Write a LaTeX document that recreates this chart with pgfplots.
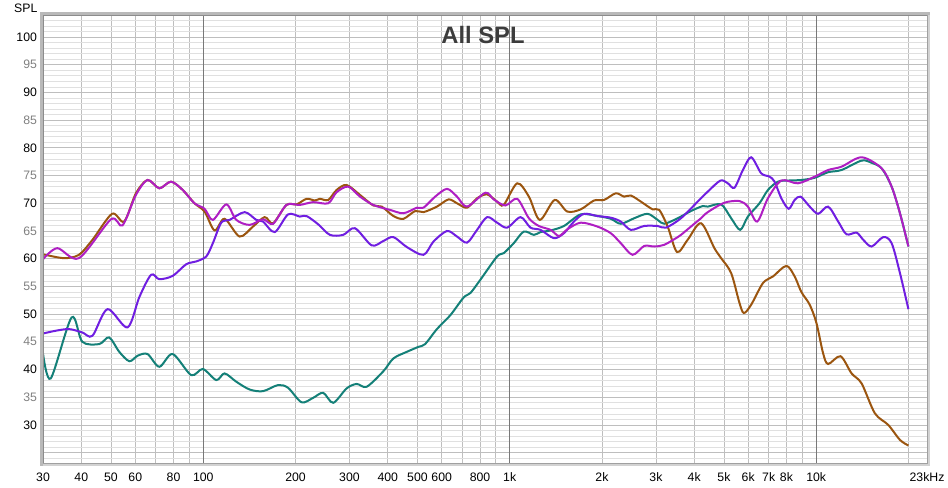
\documentclass[border=0pt]{standalone}
\usepackage{fontspec}
\setmainfont{Liberation Sans}
\usepackage{pgfplots}
\pgfplotsset{compat=1.18}
\definecolor{cbrown}{RGB}{155,85,15}
\definecolor{cteal}{RGB}{20,128,120}
\definecolor{cviolet}{RGB}{112,30,225}
\definecolor{cmag}{RGB}{175,30,195}
\definecolor{tgray}{RGB}{128,128,128}
\definecolor{gmaj}{RGB}{190,190,190}
\definecolor{gmin}{RGB}{224,224,224}
\definecolor{gdec}{RGB}{120,120,120}
\definecolor{ttl}{RGB}{60,60,60}
\begin{document}
\begin{tikzpicture}
\path[use as bounding box] (-32.25pt,-18.75pt) rectangle (678.75pt,347.25pt);
\begin{axis}[
  at={(0pt,0pt)}, anchor=south west,
  scale only axis, width=663pt, height=336pt,
  xmode=log, xmin=30, xmax=23000, ymin=23.14, ymax=103.97,
  axis line style={draw=none},
  xtick={30,40,50,60,80,200,300,400,500,600,800,2000,3000,4000,5000,6000,7000,8000,23000},
  xticklabels={30,40,50,60,80,200,300,400,500,600,800,2k,3k,4k,5k,6k,7k,8k,23kHz},
  minor xtick={70,90,700,900,9000,20000},
  extra x ticks={100,1000,10000},
  extra x tick labels={100,1k,10k},
  extra x tick style={grid=major, major x grid style={gdec, line width=0.6pt}},
  ytick={25,30,...,100},
  yticklabels={,30,\textcolor{tgray}{35},40,\textcolor{tgray}{45},50,\textcolor{tgray}{55},60,\textcolor{tgray}{65},70,\textcolor{tgray}{75},80,\textcolor{tgray}{85},90,\textcolor{tgray}{95},100},
  minor ytick={24,26,27,28,29,31,32,33,34,36,37,38,39,41,42,43,44,46,47,48,49,51,52,53,54,56,57,58,59,61,62,63,64,66,67,68,69,71,72,73,74,76,77,78,79,81,82,83,84,86,87,88,89,91,92,93,94,96,97,98,99,101,102,103},
  grid=both,
  major grid style={gmaj, line width=0.6pt},
  minor y grid style={gmin, line width=0.5pt},
  minor x grid style={gmaj, line width=0.6pt},
  major tick length=0pt, minor tick length=0pt,
  tick label style={font=\fontsize{9.2}{10}\selectfont},
  xticklabel style={yshift=-4pt},
  yticklabel style={xshift=-1pt},
]
\addplot[cteal, line width=1.5pt, smooth] coordinates {
(30,42.9) (31.8,38.4) (37.2,49.4) (40.3,45.0) (45.8,44.6) (49.3,45.8) (53.2,43.2) (57.4,41.5) (61.1,42.5) (65.8,42.8) (71.9,40.5) (79.5,42.8) (91.3,39.0) (99.7,40.1) (110.3,38.1) (117.4,39.3) (128.2,37.8) (141.7,36.4) (156.7,36.1) (175.4,37.2) (189.2,36.7) (209.3,34.1) (228.4,34.9) (246.3,35.8) (265.5,34.0) (293.7,36.6) (316.7,37.4) (341.6,36.9) (387.1,39.7) (417.3,42.0) (461.7,43.2) (504,44.1) (529.9,44.6) (578.8,47.3) (640,49.8) (707.4,53.0) (744.1,53.8) (802.2,56.2) (909.7,60.4) (956,61.0) (1031,62.8) (1112,64.9) (1199,64.3) (1261,64.8) (1360,65.1) (1503,65.9) (1705,68.0) (1933,67.7) (2137,67.2) (2304,66.3) (2548,67.3) (2818,68.1) (3039,67.0) (3194,66.3) (3535,67.3) (3903,68.6) (4266,69.5) (4429,69.4) (4897,69.8) (5281,67.3) (5651,65.2) (5987,67.6) (6534,70.0) (6962,72.4) (7506,73.9) (8097,74.1) (8947,74.2) (9892,74.6) (10940,75.6) (12100,76.0) (14070,77.7) (15170,77.3) (16360,76.3) (17630,73.0) (18770,68.2) (20000,62.2)
};
\addplot[cbrown, line width=1.5pt, smooth] coordinates {
(30,60.8) (35.1,60.1) (39.3,60.7) (43.5,63.4) (50.4,68.1) (55.2,66.7) (60.3,71.8) (65.8,74.2) (71.9,72.7) (78.5,73.9) (85.7,72.4) (93.6,70.0) (101,68.5) (108.9,65.1) (117.4,67.2) (131.4,64.0) (145.3,65.8) (158.7,67.5) (169,66.4) (186.9,69.7) (201.6,69.8) (217.3,70.8) (231.3,70.5) (240.2,70.8) (255.7,70.6) (272.4,72.4) (293.7,73.3) (324.7,71.5) (358.9,69.6) (382.4,69.4) (417.3,67.7) (450.1,67.2) (491.5,68.6) (523.2,68.4) (578.8,69.4) (631.9,70.7) (673.1,70.0) (725.8,69.2) (782.6,70.9) (843.7,71.6) (909.7,70.3) (956,69.7) (1058,73.6) (1155,71.2) (1254,67.0) (1402,70.6) (1542,68.5) (1705,68.9) (1884,70.5) (2032,70.6) (2219,71.8) (2362,71.2) (2485,71.4) (2679,70.3) (2926,68.9) (3076,68.8) (3277,65.8) (3516,61.2) (3807,63.4) (4210,66.4) (4655,61.9) (4897,60.1) (5281,57.4) (5622,52.0) (5811,50.2) (6138,51.7) (6705,55.6) (7230,56.8) (7993,58.7) (8507,56.8) (8947,54.0) (9527,51.7) (10020,48.4) (10540,42.9) (10940,41.0) (12010,42.4) (13050,39.3) (14070,37.5) (15550,32.1) (17200,30.0) (18770,27.3) (20000,26.3)
};
\addplot[cviolet, line width=1.5pt, smooth] coordinates {
(30,46.5) (33,47.0) (36.5,47.3) (40.3,46.7) (43.5,46.1) (48.7,50.9) (56.6,47.6) (61.9,53.1) (67.6,57.1) (71.9,56.3) (79.5,56.9) (88,59.0) (94.8,59.5) (102.3,60.4) (107.5,62.8) (114.5,66.5) (121.9,67.0) (136.5,68.4) (149,67.0) (156.7,66.7) (171.1,64.8) (189.2,68.0) (206.6,67.6) (217.3,67.7) (237.2,66.2) (259,64.3) (286.3,64.3) (312.6,65.5) (354.6,62.4) (387.1,63.2) (417.3,63.9) (461.7,62.1) (523.2,60.7) (564.1,63.1) (624.4,65.0) (673.1,64.0) (725.8,62.9) (782.6,65.2) (843.7,67.5) (909.7,66.5) (980.9,65.6) (1085,67.5) (1169,65.6) (1261,65.2) (1394,63.7) (1503,64.6) (1621,66.7) (1748,68.1) (1933,67.7) (2137,67.4) (2304,66.7) (2485,65.2) (2747,65.9) (3039,65.9) (3235,65.6) (3622,67.3) (4106,70.3) (4429,72.1) (4871,74.1) (5150,73.6) (5413,72.8) (5767,76.0) (6138,78.3) (6619,75.4) (7046,74.8) (7317,73.9) (7698,70.9) (8134,69.0) (8507,70.6) (8900,71.2) (9527,69.4) (10150,68.1) (10940,69.4) (11800,66.7) (12560,64.4) (13550,64.7) (14250,63.4) (15170,62.2) (16560,63.9) (17630,62.8) (18770,57.4) (20000,50.9)
};
\addplot[cmag, line width=1.5pt, smooth] coordinates {
(30,59.9) (33.4,61.9) (39.3,60.1) (50.0,67.1) (54.5,66.0) (60.3,71.5) (65.8,74.2) (71.9,72.7) (78.5,73.9) (85.7,72.4) (93.6,70.0) (101,69.0) (107.5,67.0) (118.9,69.8) (128.2,67.0) (141.7,66.1) (156.7,67.1) (169,66.3) (186.9,69.7) (206.6,69.7) (228.4,70.2) (255.7,70.0) (272.4,72.0) (297.3,73.0) (324.7,71.2) (358.9,69.7) (407.1,68.8) (450.1,68.2) (498,69.2) (523.2,69.2) (571.4,71.2) (624.4,72.6) (673.1,71.2) (725.8,69.4) (833,71.9) (886.7,70.7) (968.4,69.6) (1058,70.8) (1155,67.3) (1245,65.9) (1360,65.2) (1448,64.1) (1542,65.3) (1705,66.5) (1933,65.8) (2137,64.6) (2304,62.8) (2517,60.7) (2747,62.3) (2962,62.2) (3194,62.5) (3535,63.9) (3622,64.3) (4002,66.3) (4210,67.3) (4429,68.4) (5020,70.1) (5622,70.4) (5987,69.4) (6422,66.7) (6962,70.9) (7698,74.1) (8727,73.6) (9892,74.8) (10940,76.0) (12100,76.6) (14070,78.3) (16360,76.3) (17630,73.0) (18770,68.2) (20000,62.2)
};
\end{axis}
\draw[color={rgb,255:red,210;green,210;blue,210}, line width=2pt] (664pt,337pt) -- (664pt,-1pt) -- (-2pt,-1pt);
\draw[color={rgb,255:red,160;green,160;blue,160}, line width=0.5pt] (663pt,336pt) -- (663pt,0pt) -- (0pt,0pt);
\draw[color={rgb,255:red,185;green,185;blue,185}, line width=2.4pt] (-1.2pt,-2pt) -- (-1.2pt,337.2pt) -- (665pt,337.2pt);
\draw[color={rgb,255:red,140;green,140;blue,140}, line width=0.5pt] (0pt,0pt) -- (0pt,336pt) -- (663pt,336pt);
\node[font=\fontsize{17.8}{20}\selectfont\bfseries, text=ttl] at (330pt,321pt) {All SPL};
\node[font=\fontsize{9.2}{10}\selectfont, anchor=east, inner sep=0pt] at (-4pt,341pt) {SPL};
\end{tikzpicture}
\end{document}
